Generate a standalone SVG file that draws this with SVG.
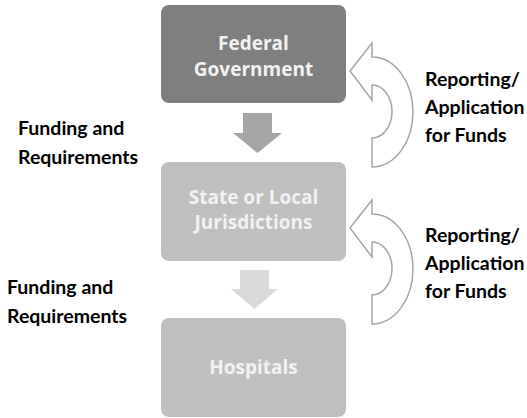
<svg xmlns="http://www.w3.org/2000/svg" width="527" height="418" viewBox="0 0 527 418">
<style>
.box{stroke:none}
.bt{font-family:"Open Sans","DejaVu Sans",sans-serif;font-weight:bold;font-size:19px;fill:#f2f2f2;text-anchor:middle}
.lbl{font-family:Lato,"Liberation Sans",sans-serif;font-weight:bold;font-size:19.5px;fill:#000}
.loop{fill:#fff;stroke:#a6a6a6;stroke-width:1.5;stroke-linejoin:miter}
</style>
<rect width="527" height="418" fill="#fff"/>
<g id="federal">
<rect class="box" x="161" y="5" width="185" height="98" rx="8" fill="#7f7f7f"/>
<text class="bt" x="253.5" y="50">Federal</text>
<text class="bt" x="253.5" y="76">Government</text>
</g>
<g id="state">
<rect class="box" x="161" y="162" width="185" height="99" rx="8" fill="#bfbfbf"/>
<text class="bt" x="253.5" y="204">State or Local</text>
<text class="bt" x="253.5" y="229">Jurisdictions</text>
</g>
<g id="hospitals">
<rect class="box" x="161" y="318" width="185" height="99" rx="8" fill="#bfbfbf"/>
<text class="bt" x="253.5" y="374">Hospitals</text>
</g>
<g id="connectors">
<polygon points="243,113 272,113 272,133 282,133 257.5,153 233,133 243,133" fill="#a5a5a5"/>
<polygon points="240,270 269,270 269,289 278,289 254.5,309 231,289 240,289" fill="#d9d9d9"/>
<path class="loop" d="M372,57 A41,55 0 0 1 372,167 L372,138 A20,26.5 0 0 0 372,85 L372,100 L350,71 L372,43 Z"/>
<path class="loop" d="M372,214 A41,55 0 0 1 372,324 L372,295 A20,26.5 0 0 0 372,242 L372,257 L350,228 L372,200 Z"/>
</g>
<g id="labels">
<text class="lbl" x="18" y="135">Funding and</text>
<text class="lbl" x="18" y="164">Requirements</text>
<text class="lbl" x="7" y="294">Funding and</text>
<text class="lbl" x="7" y="323">Requirements</text>
<text class="lbl" x="425" y="86">Reporting/</text>
<text class="lbl" x="425" y="114">Application</text>
<text class="lbl" x="425" y="142">for Funds</text>
<text class="lbl" x="425" y="242">Reporting/</text>
<text class="lbl" x="425" y="270">Application</text>
<text class="lbl" x="425" y="298">for Funds</text>
</g>
</svg>
